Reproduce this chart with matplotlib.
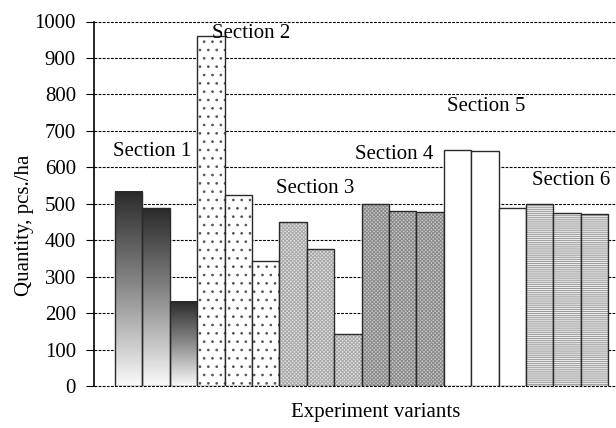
#!/usr/bin/env python3
"""Seedling counts per experiment variant, grouped by section."""

import matplotlib

matplotlib.use("Agg")
import matplotlib.pyplot as plt
import numpy as np
from matplotlib.colors import LinearSegmentedColormap, to_rgba

plt.rcParams["font.family"] = ["Liberation Serif", "DejaVu Serif"]
plt.rcParams["hatch.linewidth"] = 0.7

SECTIONS = ["Section 1", "Section 2", "Section 3",
            "Section 4", "Section 5", "Section 6"]
SECTION_1 = [533, 488, 231]
SECTION_2 = [960, 523, 342]
SECTION_3 = [449, 377, 142]
SECTION_4 = [500, 481, 478]
SECTION_5 = [647, 644, 488]
SECTION_6 = [500, 475, 472]
YTICKS = list(range(0, 1001, 100))

# label anchors (bar-index units, value units)
LABEL_X = [1.35, 4.95, 7.3, 10.2, 13.55, 16.65]
LABEL_Y = [644, 967, 542, 636, 767, 564]

STYLES = [
    dict(face="none", hatch=None, hcolor="black"),          # gradient fill
    dict(face="white", hatch="..", hcolor="#555555"),
    dict(face="#e2e2e2", hatch="xxxxxxxxx", hcolor="#a8a8a8"),
    dict(face="#c8c8c8", hatch="xxxxxxxxx", hcolor="#8a8a8a"),
    dict(face="white", hatch=None, hcolor="black"),
    dict(face="#ececec", hatch="--------", hcolor="#9a9a9a"),
]

fig = plt.figure(figsize=(6.16, 4.28), dpi=100)
ax = fig.add_axes([94 / 616, 42 / 428, 1 - 94 / 616, 364.5 / 428])

grad = LinearSegmentedColormap.from_list("dark_top", ["#fafafa", "#8c8c8c", "#2a2a2a"])
gradient = np.linspace(0, 1, 256).reshape(-1, 1)

groups = [SECTION_1, SECTION_2, SECTION_3, SECTION_4, SECTION_5, SECTION_6]
pos = 0
for vals, st in zip(groups, STYLES):
    for v in vals:
        if st["face"] == "none":
            ax.imshow(gradient, cmap=grad, origin="lower", aspect="auto",
                      extent=[pos, pos + 1, 0, v], zorder=2)
        bar = ax.bar(pos, v, width=1.0, align="edge", facecolor=st["face"],
                     edgecolor="#2a2a2a", linewidth=1.0, zorder=3)[0]
        if st["hatch"]:
            bar.set_hatch(st["hatch"])
            bar._hatch_color = to_rgba(st["hcolor"])
        pos += 1

for name, lx, ly in zip(SECTIONS, LABEL_X, LABEL_Y):
    ax.text(lx, ly, name, ha="center", va="center", fontsize=15, zorder=5)

ax.set_xlim(-21 / 27.4, (616 - 115) / 27.4)
ax.set_ylim(0, 1000)
ax.set_yticks(YTICKS)
ax.set_xticks([])
ax.tick_params(axis="y", labelsize=15, length=6, width=0.8, direction="out",
               pad=7)
for y in YTICKS:
    ax.axhline(y, color="black", lw=0.8, ls=(0, (2.5, 1.2)), zorder=1,
               clip_on=False)
ax.spines[["top", "right", "bottom"]].set_visible(False)
ax.spines["left"].set_linewidth(1.2)
ax.spines["left"].set_zorder(6)

fig.text(25 / 616, 1 - 225 / 428, "Quantity, pcs./ha", rotation=90,
         ha="center", va="center", fontsize=15)
fig.text(376 / 616, 1 - 413 / 428, "Experiment variants",
         ha="center", va="center", fontsize=15)

fig.savefig("out.png", dpi=100)
